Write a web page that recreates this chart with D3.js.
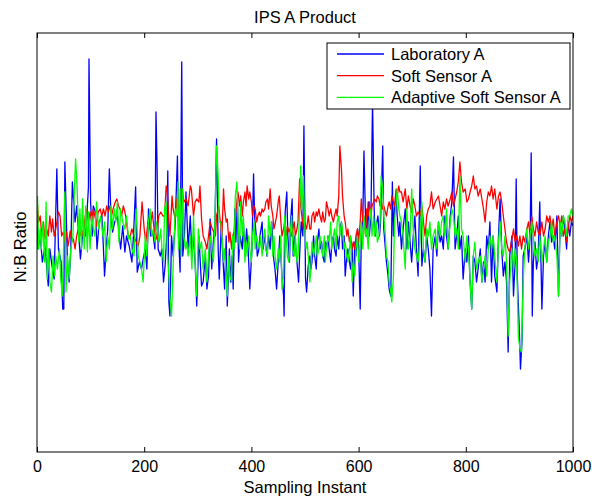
<!DOCTYPE html>
<html>
<head>
<meta charset="utf-8">
<script src="https://cdn.jsdelivr.net/npm/d3@7"></script>
<style>
  body { margin: 0; background: #fff; }
  svg { display: block; font-family: "Liberation Sans", Arial, sans-serif; }
</style>
</head>
<body>
<div id="chart"></div>
<script>
// [sample index, N:B ratio]
const laboratoryA = [
  [0,2.46],[2,2.03],[6,2.16],[10,1.90],[15,2.06],[21,1.66],[24,2.03],[28,1.86],[32,1.73],[37,2.83],[40,2.03],[45,1.90],[48,1.43],[50,1.43],[52,2.90],[57,1.86],[60,1.70],[63,2.03],[66,2.70],[71,2.30],[74,2.46],[78,2.16],[81,1.93],[85,2.16],[88,2.26],[91,2.16],[94,2.46],[96,2.65],[97,3.93],[100,2.50],[103,2.16],[105,2.46],[109,2.40],[112,2.03],[116,2.30],[121,2.36],[124,2.03],[126,1.76],[130,2.10],[132,2.23],[135,2.83],[138,2.36],[141,2.20],[145,2.30],[150,2.36],[154,2.13],[156,2.03],[160,2.26],[164,2.00],[167,2.16],[172,2.06],
  [177,1.90],[180,2.16],[184,2.65],[187,1.80],[191,1.90],[195,1.83],[198,1.93],[202,2.03],[205,1.83],[208,2.43],[212,2.16],[216,2.20],[220,2.03],[222,3.40],[224,2.86],[226,2.03],[230,1.96],[233,2.03],[236,1.70],[239,1.86],[242,2.16],[244,2.81],[246,1.50],[248,1.36],[251,2.16],[254,1.96],[258,2.30],[262,2.96],[264,2.16],[267,1.80],[270,3.90],[272,1.96],[275,2.16],[278,2.60],[282,2.03],[286,2.36],[289,1.96],[292,2.16],[295,1.90],[298,1.46],[302,2.16],[304,1.96],[307,1.66],[310,1.70],[314,1.96],[317,1.63],[320,1.76],[323,2.33],[326,1.83],[329,2.10],[332,2.30],[335,3.13],[338,2.03],[340,1.73],
  [344,2.30],[346,2.03],[350,1.63],[353,2.16],[355,1.46],[359,2.03],[361,1.70],[364,1.96],[366,1.63],[369,2.43],[371,2.10],[374,2.53],[376,1.90],[379,2.16],[383,2.03],[385,2.30],[388,1.96],[391,2.23],[394,2.03],[397,1.63],[401,2.03],[404,2.78],[406,2.36],[409,2.16],[411,1.96],[414,2.03],[416,2.16],[420,2.30],[422,2.03],[425,2.16],[429,1.96],[432,2.16],[435,2.03],[438,2.30],[441,1.96],[444,1.83],[447,1.63],[450,1.90],[453,2.16],[457,1.76],[460,1.56],[461,1.36],[463,2.40],[466,2.60],[468,2.16],[471,1.90],[473,2.30],[476,2.53],[478,1.96],[481,2.16],[485,1.90],[488,1.70],[491,2.10],[493,2.30],[496,2.16],[498,3.26],[501,1.73],[503,1.60],[506,1.86],[509,1.96],
  [511,1.83],[513,1.90],[516,2.16],[518,1.96],[521,1.83],[523,2.10],[526,2.23],[528,2.03],[531,2.10],[533,1.96],[536,1.90],[538,2.10],[540,2.03],[543,2.16],[545,2.03],[548,1.90],[550,2.10],[553,2.16],[555,2.03],[558,1.96],[560,2.16],[563,2.03],[565,2.23],[568,2.30],[570,2.03],[573,2.16],[575,1.76],[578,1.96],[580,2.03],[583,1.90],[585,1.83],[588,2.03],[590,1.56],[593,2.10],[595,1.96],[598,2.23],[600,2.03],[603,1.43],[605,2.16],[608,2.36],[610,3.01],[613,2.30],[615,2.16],[618,2.50],[620,2.16],[623,2.36],[626,3.50],[629,2.43],[631,2.16],[634,2.30],[636,2.36],[639,2.16],[641,2.30],[645,3.06],[647,2.23],[650,2.03],[652,1.90],[655,1.76],[657,1.63],[660,1.56],[663,2.70],[665,2.16],[667,2.43],[670,2.56],[672,2.36],[675,2.16],[677,2.30],
  [680,2.03],[683,2.23],[687,2.43],[690,2.03],[693,2.30],[696,2.10],[699,1.90],[702,2.16],[705,2.36],[708,2.03],[711,1.76],[715,2.86],[718,1.86],[721,2.03],[724,1.90],[727,2.16],[730,2.03],[733,1.83],[736,1.36],[739,2.03],[743,2.16],[746,1.96],[749,2.30],[752,2.10],[755,2.16],[758,2.03],[761,2.36],[764,2.16],[767,2.03],[771,2.36],[774,2.50],[777,2.95],[780,2.03],[783,2.16],[786,2.36],[789,2.03],[792,2.16],[795,1.73],[799,2.03],[802,1.90],[805,2.16],[808,1.70],[811,1.43],[814,1.96],[817,1.90],[820,1.70],[823,1.83],[827,2.03],[830,1.70],[833,1.90],[836,1.70],[839,2.16],[842,2.03],[845,2.30],
  [848,1.70],[851,2.16],[854,1.76],[858,1.60],[861,2.16],[864,2.53],[867,2.03],[870,1.76],[873,1.90],[876,1.70],[879,1.00],[882,1.96],[886,2.16],[889,1.56],[892,1.90],[894,2.73],[896,1.76],[900,1.20],[902,0.83],[905,1.13],[907,1.96],[910,2.03],[914,2.16],[917,1.90],[920,2.16],[922,2.99],[924,1.36],[926,1.90],[929,2.10],[932,1.83],[935,1.96],[938,2.50],[942,1.43],[945,1.96],[948,2.10],[951,1.90],[954,2.16],[957,2.30],[960,2.10],[963,2.16],[966,2.03],[970,2.36],[973,1.56],[976,2.30],[979,2.16],[982,2.36],[985,2.23],[988,2.03],[991,2.30],[994,2.16],[997,2.30],[1000,2.26]
];

const softSensorA = [
  [0,2.53],[3,2.30],[6,2.36],[9,2.16],[12,2.30],[15,2.13],[18,2.23],[21,2.16],[24,2.36],[27,2.20],[29,2.33],[32,2.16],[35,2.23],[40,2.40],[43,2.36],[46,2.16],[49,2.20],[52,2.10],[55,2.20],[58,2.06],[62,2.21],[65,2.10],[68,2.13],[71,2.03],[74,2.16],[77,2.23],[80,2.16],[83,2.23],[86,2.16],[90,2.36],[93,2.43],[96,2.30],[99,2.40],[102,2.30],[105,2.43],[108,2.36],[111,2.26],[114,2.40],[118,2.43],[121,2.36],[124,2.43],[127,2.36],[130,2.46],[133,2.40],[136,2.46],[139,2.36],[142,2.43],[146,2.50],[149,2.53],[152,2.46],[155,2.43],[158,2.36],[161,2.46],[164,2.40],[167,2.30],[170,2.16],[174,2.16],
  [177,2.23],[181,2.16],[185,2.10],[189,2.06],[192,2.16],[196,2.50],[200,2.23],[203,2.10],[207,2.30],[211,2.23],[215,2.40],[217,2.30],[220,2.16],[223,2.13],[227,2.36],[231,2.40],[235,2.36],[238,2.36],[241,2.66],[243,2.60],[246,2.33],[248,2.16],[252,2.56],[254,2.43],[258,2.33],[261,2.53],[264,2.46],[267,2.23],[271,2.63],[274,2.50],[278,2.53],[282,2.46],[286,2.66],[288,2.63],[292,2.36],[295,2.50],[298,2.53],[302,2.50],[304,2.66],[307,2.33],[310,2.16],[314,2.10],[317,2.03],[320,2.16],[323,2.30],[327,2.23],[330,2.20],[333,2.16],[335,2.36],[339,2.46],[342,2.30],
  [345,2.16],[348,2.63],[350,2.43],[353,2.30],[355,2.33],[358,2.10],[360,2.20],[363,2.03],[365,2.16],[368,2.20],[370,2.36],[373,2.50],[375,2.60],[378,2.46],[380,2.56],[383,2.36],[385,2.50],[388,2.60],[390,2.46],[392,2.66],[395,2.53],[397,2.60],[400,2.50],[402,2.36],[405,2.46],[407,2.43],[410,2.30],[412,2.36],[415,2.40],[417,2.36],[420,2.43],[422,2.40],[425,2.43],[427,2.50],[430,2.53],[432,2.43],[435,2.63],[437,2.46],[440,2.36],[442,2.23],[445,2.30],[447,2.36],[450,2.50],[452,2.56],[455,2.30],[457,2.16],[460,2.23],[462,2.30],[465,2.16],[467,2.26],[470,2.20],[472,2.23],[475,2.16],[477,2.23],[480,2.30],[482,2.16],[485,2.23],[487,2.30],[490,2.73],[492,2.46],[494,2.36],[497,2.23],[499,2.30],[503,2.23],[506,2.36],[509,2.23],
  [511,2.23],[513,2.36],[516,2.40],[518,2.30],[521,2.40],[523,2.36],[526,2.43],[528,2.36],[531,2.30],[533,2.40],[536,2.30],[538,2.33],[540,2.50],[543,2.43],[545,2.36],[548,2.43],[550,2.36],[553,2.30],[555,2.36],[558,2.43],[560,2.36],[563,2.56],[565,3.06],[568,2.83],[570,2.56],[573,2.36],[575,2.30],[578,2.16],[580,2.23],[583,2.10],[585,2.16],[588,2.03],[590,2.10],[593,2.03],[595,2.16],[598,2.23],[600,2.10],[603,2.30],[605,2.53],[608,2.30],[610,2.36],[613,2.16],[615,2.43],[618,2.36],[620,2.50],[623,2.36],[625,2.46],[628,2.50],[630,2.53],[633,2.50],[635,2.56],[638,2.53],[640,2.46],[642,2.53],[645,2.43],[647,2.46],[650,2.40],[652,2.36],[655,2.46],[657,2.50],[660,2.43],[662,2.56],[665,2.50],[667,2.46],[670,2.63],[672,2.56],[675,2.66],[677,2.60],
  [680,2.60],[683,2.50],[687,2.63],[690,2.43],[693,2.56],[696,2.46],[699,2.40],[702,2.53],[705,2.46],[708,2.36],[711,2.40],[715,2.36],[718,2.46],[721,2.30],[724,2.16],[727,2.36],[730,2.43],[733,2.46],[736,2.60],[739,2.43],[743,2.50],[746,2.53],[749,2.56],[752,2.46],[755,2.36],[758,2.50],[761,2.43],[764,2.53],[767,2.46],[771,2.53],[774,2.60],[777,2.46],[780,2.53],[783,2.60],[786,2.70],[789,2.90],[792,2.70],[795,2.60],[799,2.63],[802,2.50],[805,2.53],[808,2.60],[811,2.66],[814,2.76],[817,2.63],[820,2.66],[823,2.56],[827,2.63],[830,2.53],[833,2.43],[836,2.30],[839,2.50],[842,2.60],[845,2.56],
  [848,2.66],[851,2.53],[854,2.63],[858,2.43],[861,2.56],[864,2.60],[867,2.50],[870,2.36],[873,2.23],[876,2.10],[879,2.03],[882,2.00],[886,2.13],[889,2.23],[892,2.10],[895,2.16],[898,2.06],[901,2.16],[904,2.03],[907,2.16],[910,2.10],[914,2.23],[917,2.30],[920,2.16],[923,2.36],[926,2.23],[929,2.16],[932,2.30],[935,2.20],[938,2.16],[942,2.30],[945,2.16],[948,2.23],[951,2.36],[954,2.30],[957,2.36],[960,2.23],[963,2.33],[966,2.16],[970,2.30],[973,2.36],[976,2.26],[979,2.36],[982,2.16],[985,2.23],[988,2.10],[991,2.23],[994,2.36],[997,2.30],[1000,2.36]
];

const adaptiveSoftSensorA = [
  [1,2.56],[3,2.03],[6,2.23],[8,2.03],[11,2.30],[14,1.90],[17,2.50],[19,1.73],[22,2.03],[24,1.70],[27,1.60],[30,1.96],[33,1.76],[35,1.96],[38,1.83],[42,2.03],[44,1.76],[47,1.56],[49,1.90],[52,2.60],[54,1.60],[57,1.96],[60,1.73],[63,2.03],[67,2.16],[69,2.50],[72,2.93],[75,2.63],[78,2.10],[80,2.43],[83,2.03],[85,2.53],[88,2.03],[91,2.46],[94,2.00],[96,2.40],[99,2.03],[102,2.36],[105,2.23],[108,2.16],[111,2.50],[115,2.23],[119,2.36],[123,2.16],[126,2.30],[129,1.90],[132,2.16],[135,2.03],[138,2.46],[141,2.23],[144,2.43],[147,2.30],[150,2.50],[153,2.10],[156,2.43],[160,2.30],[164,2.23],[167,2.36],[171,2.13],[174,2.16],
  [177,2.03],[181,1.96],[185,2.43],[189,1.96],[192,1.90],[195,1.83],[198,1.70],[202,2.16],[205,1.96],[208,2.30],[211,2.43],[214,2.16],[217,2.23],[220,2.10],[223,2.30],[226,2.16],[228,2.10],[231,2.23],[233,2.03],[236,1.90],[238,2.43],[241,2.50],[243,2.03],[246,1.76],[248,1.56],[251,1.36],[253,1.70],[256,2.16],[258,2.43],[261,2.36],[263,2.70],[264,2.03],[267,2.63],[269,1.96],[272,2.63],[274,2.16],[277,2.03],[279,2.10],[282,1.96],[286,2.16],[289,1.83],[292,2.36],[295,1.90],[298,1.56],[301,2.23],[304,2.03],[307,2.10],[310,1.83],[314,2.03],[317,1.70],[320,1.96],[323,2.16],[326,2.03],[329,1.90],[332,2.30],[335,3.06],[338,2.76],[340,2.30],
  [343,2.30],[345,2.16],[348,1.90],[350,2.03],[353,1.76],[355,1.56],[358,1.96],[360,1.76],[363,1.70],[365,2.16],[368,2.03],[370,2.56],[373,2.70],[375,2.30],[378,2.03],[380,2.50],[383,2.16],[385,2.36],[388,1.90],[390,2.10],[392,1.96],[395,2.16],[397,2.03],[400,1.90],[402,2.16],[405,2.30],[407,2.03],[410,2.16],[412,2.10],[415,2.03],[417,2.16],[420,1.96],[422,2.10],[425,2.23],[427,2.03],[430,1.96],[432,2.36],[435,2.16],[437,2.30],[440,1.96],[442,2.16],[445,1.90],[447,1.83],[450,2.03],[452,1.90],[455,2.16],[457,1.63],[460,1.76],[462,2.36],[465,2.16],[467,1.96],[470,1.90],[472,2.16],[475,2.36],[477,2.03],[480,1.96],[482,2.16],[485,1.90],[487,1.96],[490,2.43],[492,2.86],[494,2.43],[497,2.76],[499,2.30],[502,2.03],[504,2.10],[507,1.90],[509,1.70],
  [511,1.83],[513,2.10],[516,1.96],[518,2.03],[521,2.16],[523,1.96],[526,2.03],[528,2.16],[531,2.03],[533,1.96],[536,2.16],[538,1.90],[540,2.03],[543,2.16],[545,2.10],[548,2.30],[550,2.03],[553,2.16],[555,2.23],[558,2.03],[560,2.30],[563,2.36],[565,2.16],[568,2.30],[570,2.23],[573,2.03],[575,2.10],[578,1.96],[580,1.90],[583,2.03],[585,2.16],[588,1.70],[590,1.90],[593,1.76],[595,2.03],[598,2.16],[600,1.90],[603,2.10],[605,2.30],[608,2.03],[610,2.36],[613,2.16],[615,2.23],[618,2.03],[620,2.30],[623,2.43],[625,2.16],[628,2.36],[630,2.16],[633,2.30],[635,2.10],[638,2.16],[640,2.30],[642,2.76],[645,2.63],[647,2.36],[650,2.16],[652,1.96],[655,1.90],[657,1.70],[660,1.60],[662,1.50],[665,1.76],[667,2.30],[670,2.50],[672,2.63],[675,2.43],[677,2.36],
  [680,2.30],[683,2.16],[687,1.83],[690,2.43],[693,2.03],[696,2.16],[699,2.63],[702,2.23],[705,2.03],[708,1.96],[711,1.90],[715,2.16],[718,2.50],[721,2.03],[724,1.90],[727,2.23],[730,2.16],[733,2.30],[736,2.03],[739,2.16],[743,2.23],[746,2.03],[749,2.30],[752,2.16],[755,2.30],[758,2.36],[761,2.16],[764,2.43],[767,2.03],[771,2.30],[774,2.43],[777,2.36],[780,2.16],[783,2.23],[786,2.03],[789,2.76],[792,2.23],[795,2.16],[799,1.90],[802,2.16],[805,2.03],[808,1.70],[811,1.43],[814,1.96],[817,2.10],[820,1.83],[823,1.90],[827,1.96],[830,1.70],[833,1.83],[836,1.96],[839,1.76],[842,2.03],[845,2.16],
  [848,2.03],[851,2.16],[854,1.96],[858,1.70],[861,2.10],[864,2.30],[867,2.03],[870,1.96],[873,2.16],[876,1.90],[879,1.16],[882,1.70],[886,2.03],[889,1.83],[892,2.03],[895,1.90],[898,1.16],[901,1.03],[904,1.00],[907,1.70],[910,2.03],[914,2.23],[917,2.03],[920,2.16],[923,2.30],[926,2.16],[929,1.96],[932,2.03],[935,1.90],[938,2.16],[942,1.90],[945,2.03],[948,2.16],[951,1.90],[954,2.10],[957,2.16],[960,2.30],[963,2.10],[966,2.16],[970,1.96],[973,1.56],[976,2.30],[979,2.16],[982,2.36],[985,2.30],[988,2.16],[991,2.36],[994,2.36],[997,2.43],[1000,2.36]
];

const seriesNames = ['Laboratory A', 'Soft Sensor A', 'Adaptive Soft Sensor A'];
const seriesColors = ['#0000ff', '#ff0000', '#00ff00'];
const xTicks = [0, 200, 400, 600, 800, 1000];

const totalWidth = 592;
const totalHeight = 498;
const margin = { top: 33, right: 19, bottom: 46, left: 37 };
const width = totalWidth - margin.left - margin.right;
const height = totalHeight - margin.top - margin.bottom;

const xScale = d3.scaleLinear().domain([0, 1000]).range([0, width]);
const yScale = d3.scaleLinear().domain([0, 4.19]).range([height, 0]);

const svg = d3
  .select('#chart')
  .append('svg')
  .attr('width', totalWidth)
  .attr('height', totalHeight);

const g = svg
  .append('g')
  .attr('transform', `translate(${margin.left}, ${margin.top})`);

g.append('clipPath')
  .attr('id', 'plot-clip')
  .append('rect')
  .attr('width', width)
  .attr('height', height);

// Series lines, drawn in MATLAB order so green ends up on top
const line = d3
  .line()
  .x((d) => xScale(d[0]))
  .y((d) => yScale(d[1]));

const allSeries = [laboratoryA, softSensorA, adaptiveSoftSensorA];

g.append('g')
  .attr('clip-path', 'url(#plot-clip)')
  .selectAll('path')
  .data(allSeries)
  .join('path')
  .attr('d', line)
  .attr('fill', 'none')
  .attr('stroke', (d, i) => seriesColors[i])
  .attr('stroke-width', 1.3)
  .attr('stroke-linejoin', 'round');

// Frame
g.append('rect')
  .attr('width', width)
  .attr('height', height)
  .attr('fill', 'none')
  .attr('stroke', '#000')
  .attr('stroke-width', 1);

// Bottom axis, ticks pointing inward
const xAxis = g
  .append('g')
  .attr('transform', `translate(0, ${height})`)
  .call(
    d3
      .axisBottom(xScale)
      .tickValues(xTicks)
      .tickFormat(d3.format('d'))
      .tickSizeInner(-5)
      .tickSizeOuter(0)
      .tickPadding(9)
  );
xAxis.select('.domain').remove();
xAxis
  .selectAll('text')
  .attr('font-size', 16)
  .attr('fill', '#000')
  .attr('font-family', '"Liberation Sans", Arial, sans-serif');

// Top axis ticks only
const topAxis = g
  .append('g')
  .call(d3.axisTop(xScale).tickValues(xTicks).tickSizeInner(-5).tickSizeOuter(0).tickFormat(''));
topAxis.select('.domain').remove();

// Title and axis labels
svg
  .append('text')
  .attr('x', margin.left + width / 2)
  .attr('y', 22.7)
  .attr('text-anchor', 'middle')
  .attr('font-size', 16.5)
  .text('IPS A Product');

svg
  .append('text')
  .attr('x', margin.left + width / 2)
  .attr('y', 493)
  .attr('text-anchor', 'middle')
  .attr('font-size', 16.5)
  .text('Sampling Instant');

svg
  .append('text')
  .attr('transform', `translate(25.5, 247) rotate(-90)`)
  .attr('text-anchor', 'middle')
  .attr('font-size', 16.5)
  .text('N:B Ratio');

// Legend box
const legend = svg.append('g').attr('transform', 'translate(327, 43)');

legend
  .append('rect')
  .attr('width', 243)
  .attr('height', 66)
  .attr('fill', '#fff')
  .attr('stroke', '#000')
  .attr('stroke-width', 1);

const legendRows = legend
  .selectAll('g.row')
  .data(seriesNames)
  .join('g')
  .attr('class', 'row')
  .attr('transform', (d, i) => `translate(0, ${11 + i * 21.7})`);

legendRows
  .append('line')
  .attr('x1', 10)
  .attr('x2', 57)
  .attr('stroke', (d, i) => seriesColors[i])
  .attr('stroke-width', 1.3);

legendRows
  .append('text')
  .attr('x', 64)
  .attr('dy', '0.36em')
  .attr('font-size', 16.5)
  .text((d) => d);
</script>
</body>
</html>
